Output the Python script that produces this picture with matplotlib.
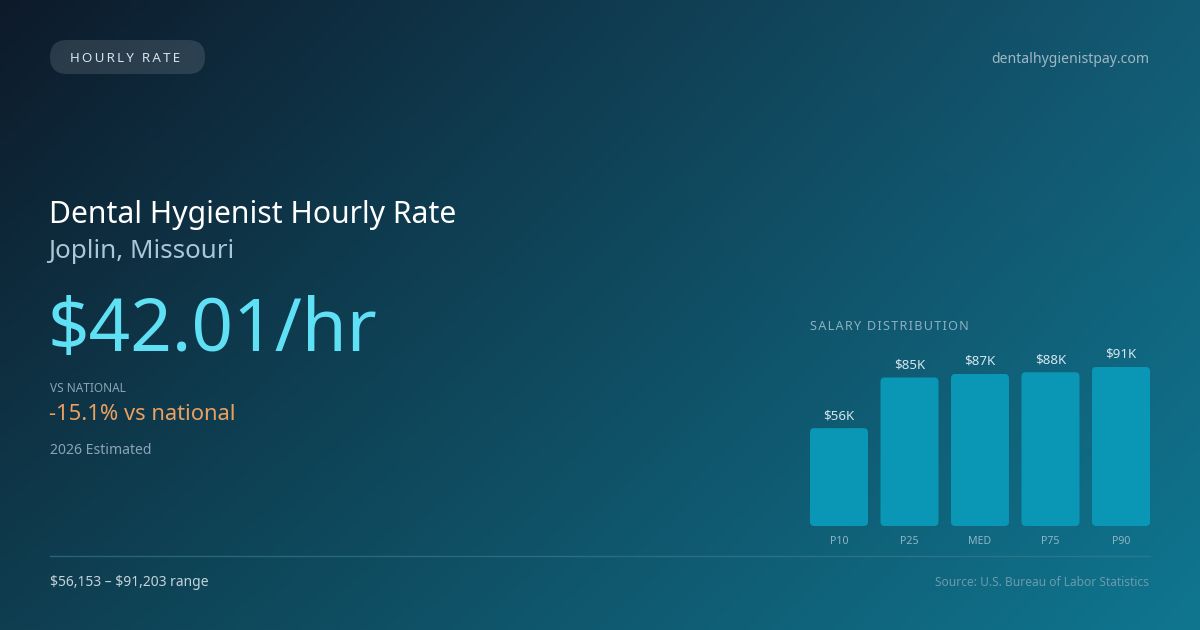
import numpy as np
import matplotlib
matplotlib.use("Agg")
import matplotlib.pyplot as plt
from matplotlib.patches import FancyBboxPatch

plt.rcParams['font.family'] = ['Noto Sans', 'DejaVu Sans']

# data
percentiles = ["P10", "P25", "MED", "P75", "P90"]
salaries_k = [56, 85, 87, 88, 91]
value_labels = ["$56K", "$85K", "$87K", "$88K", "$91K"]

hourly_rate = "$42.01/hr"
vs_national = "-15.1% vs national"
pay_range = r"\$56,153 – \$91,203 range"

W, H = 1200, 630
fig = plt.figure(figsize=(12, 6.3), dpi=100)

# full-canvas axes in pixel units
bg = fig.add_axes([0, 0, 1, 1])
bg.set_xlim(0, W)
bg.set_ylim(H, 0)
bg.axis('off')

# background gradient (bilinear between corner colours)
tl = np.array([13, 26, 42]) / 255
tr = np.array([19, 90, 115]) / 255
bl = np.array([15, 62, 80]) / 255
br = np.array([15, 118, 144]) / 255
u = np.linspace(0, 1, 300)[None, :, None]
v = np.linspace(0, 1, 160)[:, None, None]
grad = (1 - u) * (1 - v) * tl + u * (1 - v) * tr + (1 - u) * v * bl + u * v * br
bg.imshow(grad, extent=(0, W, H, 0), aspect='auto', interpolation='bilinear', zorder=0)

# pill tag
pill = FancyBboxPatch((50, 40), 155, 34, boxstyle="round,pad=0,rounding_size=17",
                      fc='white', ec='none', alpha=0.12, zorder=1)
bg.add_patch(pill)
bg.text(70, 58.5, "\u2009".join("HOURLY RATE"), fontsize=9.6, color='#d8e2ea',
        va='center', ha='left', zorder=2)
bg.text(1149, 59.5, "dentalhygienistpay.com", fontsize=10.1, color='#9fb7c6',
        va='center', ha='right')

# headline text
bg.text(49, 215, "Dental Hygienist Hourly Rate", fontsize=21.7, color='white',
        va='center', ha='left')
bg.text(48, 252, "Joplin, Missouri", fontsize=18.7, color='#a9c7d6',
        va='center', ha='left')
bg.text(47, 332, hourly_rate, fontsize=52.4, color='#5fe0f5',
        va='center', ha='left')
bg.text(50, 388.5, "VS NATIONAL", fontsize=8.5, color='#8aa4b4',
        va='center', ha='left')
bg.text(49, 415, vs_national, fontsize=15.8, color='#eaa060',
        va='center', ha='left')
bg.text(50, 450.5, "2026 Estimated", fontsize=10.1, color='#8aa4b4',
        va='center', ha='left')

# footer
bg.plot([50, 1150], [556, 556], color='#3d7d93', lw=1, alpha=0.6)
bg.text(50, 582.5, pay_range, fontsize=10.0, color='#c3d3dc', va='center', ha='left')
bg.text(1149, 582.5, "Source: U.S. Bureau of Labor Statistics", fontsize=8.6,
        color='#6c9aac', va='center', ha='right')

bg.text(810, 326.5, "\u200a".join("SALARY DISTRIBUTION"), fontsize=9.1,
        color='#8cb1c1', va='center', ha='left')

# bar chart axes: x 810-1150 px, y from 526 (bottom) to 300 px
px_per_k = 159 / 91
ax_h = 226
ax = fig.add_axes([810 / W, (H - 526) / H, 340 / W, ax_h / H])
ax.set_facecolor('none')
x = np.arange(len(percentiles))
bw = 58 / 70.5
bars = ax.bar(x, salaries_k, width=bw, color='none')
ax.set_xlim(-0.5 * bw, len(percentiles) - 1 + 0.5 * bw)
ax.set_ylim(0, ax_h / px_per_k)
aspect = 70.5 / px_per_k
for b in bars:
    ax.add_patch(FancyBboxPatch((b.get_x(), b.get_y()), b.get_width(), b.get_height(),
                                boxstyle="round,pad=0,rounding_size=0.06",
                                mutation_aspect=aspect, fc='#0a97b5', ec='none'))
for xi, val, lab in zip(x, salaries_k, value_labels):
    ax.text(xi, val + 6 / px_per_k, lab, ha='center', va='bottom', fontsize=9.6,
            color='#d5e6ee')
ax.set_xticks(x)
ax.set_xticklabels(percentiles, fontsize=7.6, color='#8fb6c6')
ax.tick_params(axis='x', length=0, pad=7)
ax.set_yticks([])
for s in ax.spines.values():
    s.set_visible(False)

fig.savefig("out.png", dpi=100)
